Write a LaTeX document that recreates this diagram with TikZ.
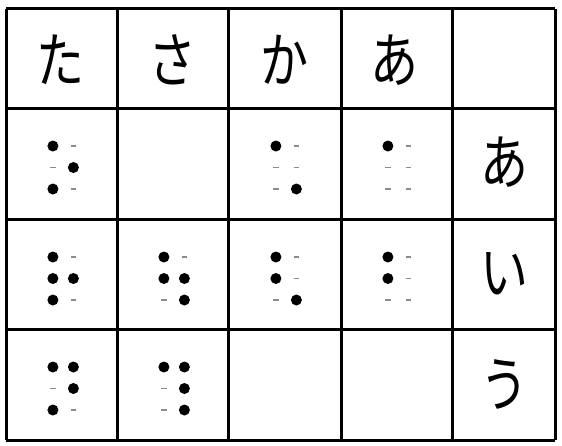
\documentclass[tikz,border=0pt]{standalone}
\usepackage{fontspec}
\newfontfamily\jp[FakeStretch=0.8]{Noto Sans CJK JP}
\tikzset{
  grid line/.style={line width=3pt, black},
  kana/.style={font=\jp\fontsize{60}{60}\selectfont, inner sep=0pt, anchor=center},
  bdot/.style={fill=black},
  bdash/.style={draw=black!45, line width=1.2pt},
}
\newcommand\brl[3]{%
  \foreach \d [count=\i] in {#3} {%
    \pgfmathtruncatemacro\col{\i>3 ? 1 : 0}%
    \pgfmathtruncatemacro\row{mod(\i-1,3)}%
    \pgfmathsetmacro\bx{#1-8.6+\col*20.5}%
    \pgfmathsetmacro\by{#2+38+\row*21.5}%
    \ifnum\d=1
      \fill[bdot] (\bx,\by) circle (5.5);
    \else
      \draw[bdash] (\bx-2.6,\by) -- (\bx+2.6,\by);
    \fi
  }%
}
\begin{document}
\begin{tikzpicture}[x=1pt,y=-1pt]
\useasboundingbox (0,0) rectangle (562,445);
\fill[white] (0,0) rectangle (562,445);
% grid
\foreach \gx in {6,117,228,341,452,555} \draw[grid line] (\gx,8.5) -- (\gx,440);
\foreach \gy in {8.5,108,219,329,440} \draw[grid line] (6,\gy) -- (555,\gy);
% header
\node[kana] (hta) at (60,60) {た};
\node[kana] (hsa) at (172,60) {さ};
\node[kana] (hka) at (284,60) {か};
\node[kana] (ha)  at (394,60) {あ};
% right column
\node[kana] (ra) at (504,162) {あ};
\node[kana] (ri) at (504,274) {い};
\node[kana] (ru) at (504,384.5) {う};
% braille: dots 1,2,3,4,5,6
\brl{61.5}{108}{1,0,1,0,1,0}
\brl{284.5}{108}{1,0,0,0,0,1}
\brl{396.5}{108}{1,0,0,0,0,0}
\brl{61.5}{219}{1,1,1,0,1,0}
\brl{172.5}{219}{1,1,0,0,1,1}
\brl{284.5}{219}{1,1,0,0,0,1}
\brl{396.5}{219}{1,1,0,0,0,0}
\brl{61.5}{329}{1,0,1,1,1,0}
\brl{172.5}{329}{1,0,0,1,1,1}
\end{tikzpicture}
\end{document}
